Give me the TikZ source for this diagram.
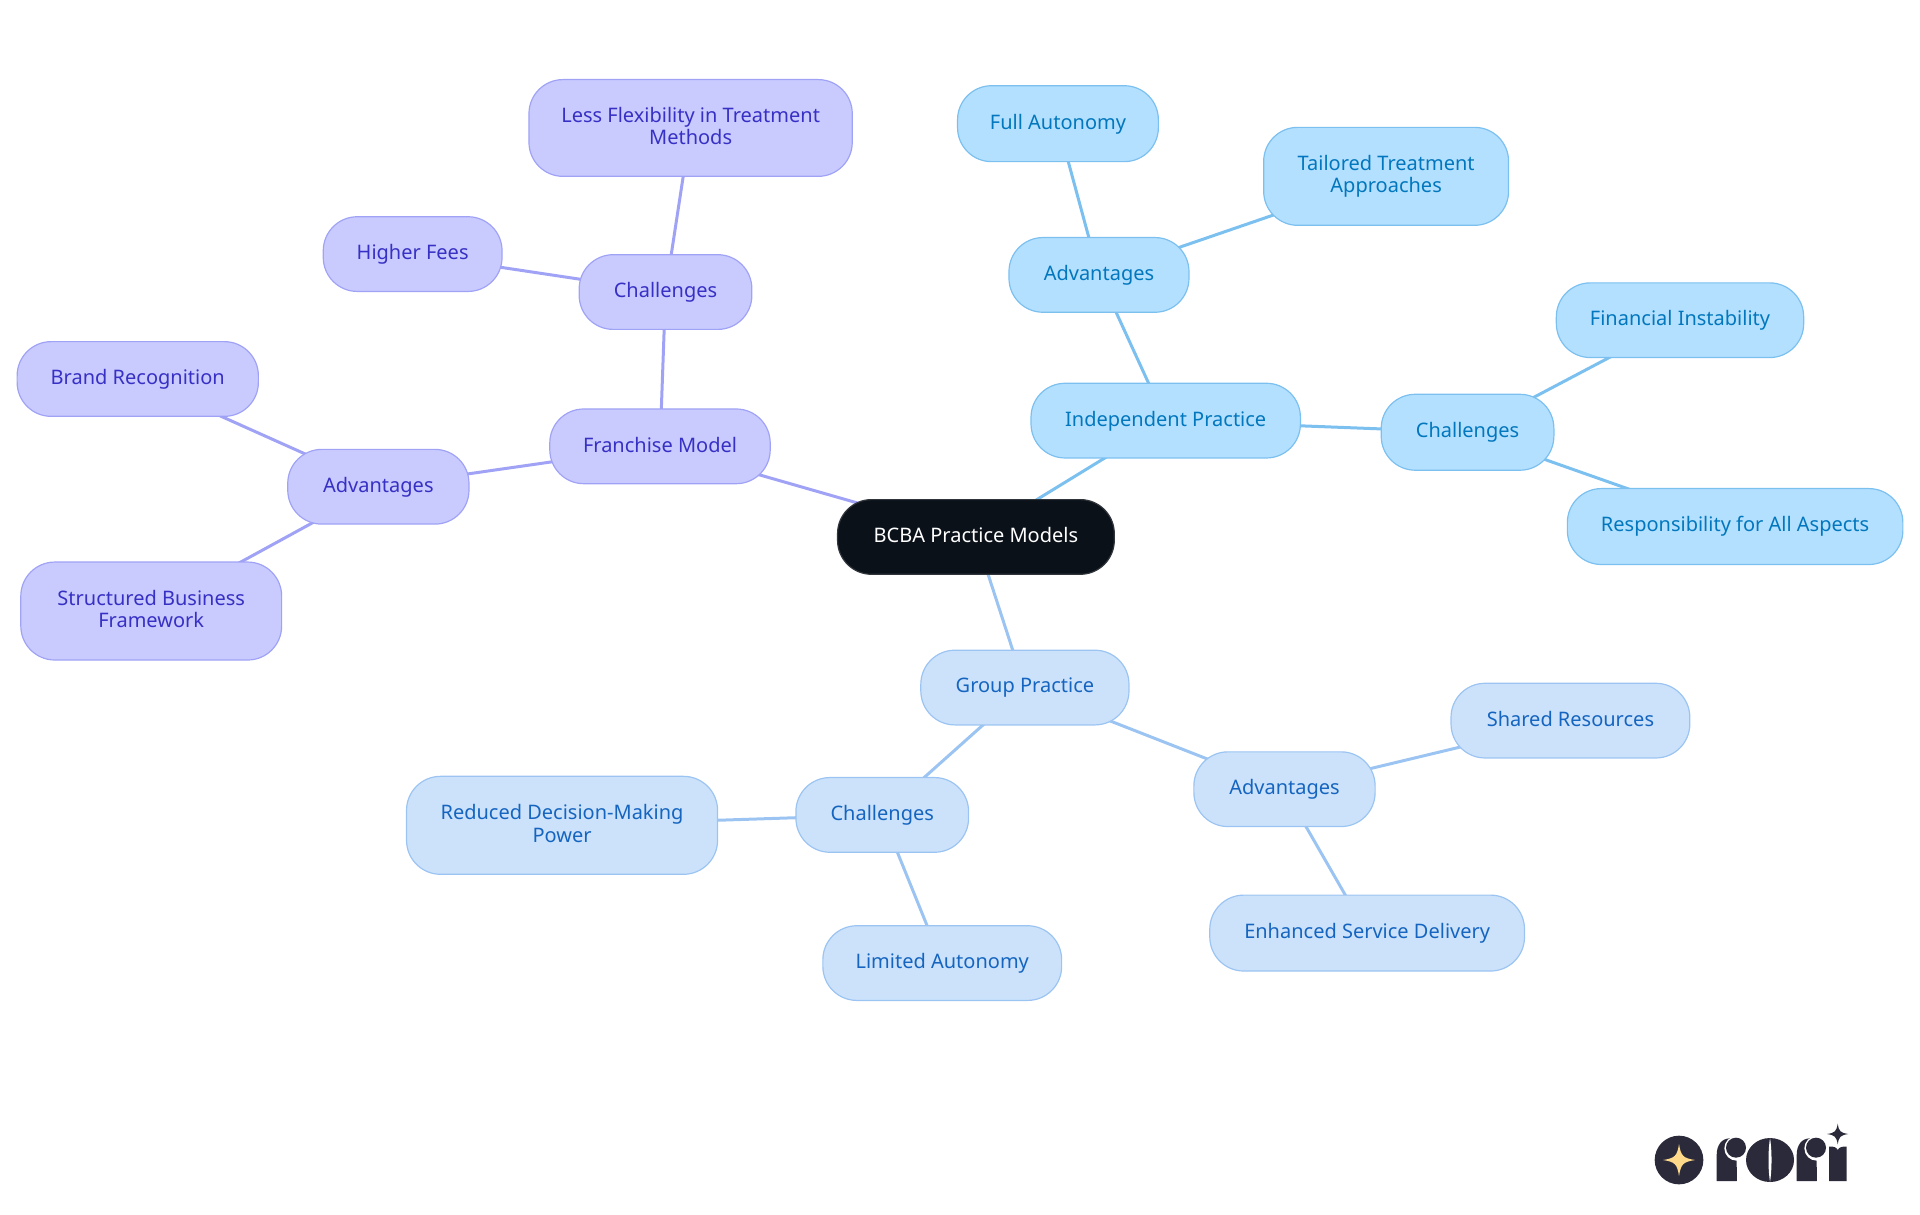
\documentclass[tikz,border=0pt]{standalone}
\usepackage{fontspec}
\setmainfont{Noto Sans}
\usetikzlibrary{backgrounds}
\definecolor{rootc}{HTML}{0B1119}
\definecolor{indf}{HTML}{B3E0FF}\definecolor{inds}{HTML}{7CC0F0}\definecolor{indt}{HTML}{0277BD}
\definecolor{grpf}{HTML}{CCE2FB}\definecolor{grps}{HTML}{9CC4F2}\definecolor{grpt}{HTML}{1565C0}
\definecolor{frnf}{HTML}{C9CBFF}\definecolor{frns}{HTML}{A0A3F5}\definecolor{frnt}{HTML}{3730C4}
\definecolor{logoc}{HTML}{2A2A3A}\definecolor{logog}{HTML}{FFD98A}
\tikzset{
  box/.style={rounded corners=17pt,line width=0.6pt,inner sep=0pt,align=center,
    font=\fontsize{10}{11.15}\selectfont},
  rootbox/.style={box,fill=rootc,draw=rootc!85!white,text=white},
  indbox/.style={box,fill=indf,draw=inds,text=indt},
  grpbox/.style={box,fill=grpf,draw=grps,text=grpt},
  frnbox/.style={box,fill=frnf,draw=frns,text=frnt},
  indline/.style={draw=inds,line width=1.5pt},
  grpline/.style={draw=grps,line width=1.5pt},
  frnline/.style={draw=frns,line width=1.5pt},
  logo/.style={fill=logoc,draw=none},
}
\newcommand{\nd}[7]{%
  \pgfmathsetmacro{\boxw}{(#5-#3)*0.61225}%
  \pgfmathsetmacro{\boxh}{(#6-#4)*0.61225}%
  \pgfmathsetmacro{\boxx}{(#3+#5)/2}%
  \pgfmathsetmacro{\boxy}{(#4+#6)/2}%
  \node[#1,minimum width=\boxw pt,minimum height=\boxh pt] (#2) at (\boxx,\boxy) {\rule{0pt}{7.8pt}#7\rule[-2pt]{0pt}{2pt}};}
\newcommand{\sparkle}[4]{% x y rx ry
  (#1-#3,#2) .. controls (#1-#3*0.25,#2-#4*0.12) and (#1-#3*0.12,#2-#4*0.25) .. (#1,#2-#4)
  .. controls (#1+#3*0.12,#2-#4*0.25) and (#1+#3*0.25,#2-#4*0.12) .. (#1+#3,#2)
  .. controls (#1+#3*0.25,#2+#4*0.12) and (#1+#3*0.12,#2+#4*0.25) .. (#1,#2+#4)
  .. controls (#1-#3*0.12,#2+#4*0.25) and (#1-#3*0.25,#2+#4*0.12) .. (#1-#3,#2) -- cycle}
\begin{document}
\begin{tikzpicture}[x=0.61225pt,y=-0.61225pt]
\useasboundingbox (0,0) rectangle (1568,992.1);
\nd{rootbox}{root}{684}{408}{910}{469}{BCBA Practice Models}
\nd{indbox}{ind}{842}{313}{1062}{374}{Independent Practice}
\nd{grpbox}{grp}{752}{531}{922}{592}{Group Practice}
\nd{frnbox}{frn}{449}{334}{629}{395}{Franchise Model}
\nd{indbox}{inda}{824}{194}{971}{255}{Advantages}
\nd{indbox}{full}{782}{70}{946}{132}{Full Autonomy}
\nd{indbox}{tail}{1032}{104}{1232}{184}{Tailored Treatment\\Approaches}
\nd{indbox}{indc}{1128}{322}{1269}{384}{Challenges}
\nd{indbox}{fin}{1271}{231}{1473}{292}{Financial Instability}
\nd{indbox}{resp}{1280}{399}{1554}{461}{Responsibility for All Aspects}
\nd{grpbox}{grpa}{975}{614}{1123}{675}{Advantages}
\nd{grpbox}{shar}{1185}{558}{1380}{619}{Shared Resources}
\nd{grpbox}{enh}{988}{731}{1245}{793}{Enhanced Service Delivery}
\nd{grpbox}{grpc}{650}{635}{791}{696}{Challenges}
\nd{grpbox}{redu}{332}{634}{586}{714}{Reduced Decision-Making\\Power}
\nd{grpbox}{lim}{672}{756}{867}{817}{Limited Autonomy}
\nd{frnbox}{frnc}{473}{208}{614}{269}{Challenges}
\nd{frnbox}{less}{432}{65}{696}{144}{Less Flexibility in Treatment\\Methods}
\nd{frnbox}{high}{264}{177}{410}{238}{Higher Fees}
\nd{frnbox}{frna}{235}{367}{383}{428}{Advantages}
\nd{frnbox}{bran}{14}{279}{211}{340}{Brand Recognition}
\nd{frnbox}{stru}{17}{459}{230}{539}{Structured Business\\Framework}
\begin{scope}[on background layer]
  \draw[indline] (root.center)--(ind.center) (ind.center)--(inda.center) (inda.center)--(full.center)
    (inda.center)--(tail.center) (ind.center)--(indc.center) (indc.center)--(fin.center) (indc.center)--(resp.center);
  \draw[grpline] (root.center)--(grp.center) (grp.center)--(grpa.center) (grpa.center)--(shar.center)
    (grpa.center)--(enh.center) (grp.center)--(grpc.center) (grpc.center)--(redu.center) (grpc.center)--(lim.center);
  \draw[frnline] (root.center)--(frn.center) (frn.center)--(frnc.center) (frnc.center)--(less.center)
    (frnc.center)--(high.center) (frn.center)--(frna.center) (frna.center)--(bran.center) (frna.center)--(stru.center);
\end{scope}
% logo: coordinates are those of the 3x crop at (1620,1100)
\begin{scope}[shift={(810pt,-550pt)},x=0.166667pt,y=-0.166667pt]
  \fill[logoc] (177,180) circle (73);
  \fill[logog] \sparkle{177}{180}{48}{48};
  % first r
  \path[logo] (290,243) -- (290,165) .. controls (290,135) and (305,115) .. (330,115) -- (350,140) -- (350,243) -- cycle;
  \fill[white] (350,145) circle (37);
  \fill[logoc] (348,143) circle (30);
  \path[logo] (290,243) -- (290,200) -- (350,200) -- (350,243) -- cycle;
  % o
  \fill[logoc] (450,180) ellipse (72 and 66);
  \fill[white] (450,114) .. controls (444,150) and (444,210) .. (450,246) .. controls (456,210) and (456,150) .. (450,114) -- cycle;
  % second r
  \path[logo] (530,243) -- (530,165) .. controls (530,135) and (545,115) .. (570,115) -- (590,140) -- (590,243) -- cycle;
  \fill[white] (590,145) circle (37);
  \fill[logoc] (588,143) circle (30);
  \path[logo] (530,243) -- (530,200) -- (590,200) -- (590,243) -- cycle;
  % i
  \path[logo] (627,243) -- (627,140) .. controls (640,138) and (650,142) .. (653,150) .. controls (656,142) and (668,138) .. (680,140) -- (680,243) -- cycle;
  \fill[logoc] \sparkle{653}{102}{32}{31};
\end{scope}
\end{tikzpicture}
\end{document}
